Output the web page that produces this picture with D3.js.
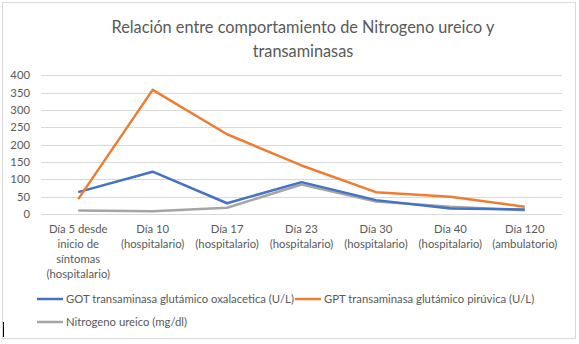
<!DOCTYPE html>
<html>
<head>
<meta charset="utf-8">
<script src="https://cdn.jsdelivr.net/npm/d3@7"></script>
<style>
  body { margin: 0; background: #fff; }
  svg { font-family: Lato, "Open Sans", sans-serif; }
</style>
</head>
<body>
<svg width="579" height="344"></svg>
<script>
// chart values
var categories = [
  ["Día 5 desde", "inicio de", "síntomas", "(hospitalario)"],
  ["Día 10", "(hospitalario)"],
  ["Día 17", "(hospitalario)"],
  ["Día 23", "(hospitalario)"],
  ["Día 30", "(hospitalario)"],
  ["Día 40", "(hospitalario)"],
  ["Día 120", "(ambulatorio)"]
];
var got = [63, 122, 31, 92, 40, 16, 13];
var gpt = [43, 358, 230, 140, 63, 50, 21];
var nitrogeno = [10, 8, 18, 85, 36, 21, 11];
var yTicks = [0, 50, 100, 150, 200, 250, 300, 350, 400];
var seriesNames = [
  "GOT transaminasa glutámico oxalacetica (U/L)",
  "GPT transaminasa glutámico pirúvica (U/L)",
  "Nitrogeno ureico (mg/dl)"
];
var seriesColors = ["#4472C4", "#ED7D31", "#A5A5A5"];

var svg = d3.select("svg");
var textColor = "#595959";
var labelSize = 11.3;

// outer chart border
svg.append("rect")
  .attr("x", 2.5).attr("y", 2.5)
  .attr("width", 573).attr("height", 336)
  .attr("fill", "#fff")
  .attr("stroke", "#D9D9D9");

// title
var title = svg.append("text")
  .attr("text-anchor", "middle")
  .attr("fill", textColor)
  .attr("font-size", 16.3);
title.append("tspan").attr("x", 303).attr("y", 33).text("Relación entre comportamiento de Nitrogeno ureico y");
title.append("tspan").attr("x", 303).attr("y", 57).text("transaminasas");

var plotLeft = 41, plotRight = 562, plotTop = 75.3, plotBottom = 214;

var xScale = d3.scaleBand()
  .domain(d3.range(categories.length))
  .range([plotLeft, plotRight]);

var yScale = d3.scaleLinear()
  .domain([0, 400])
  .range([plotBottom, plotTop]);

// gridlines
svg.append("g")
  .selectAll("line")
  .data(yTicks)
  .join("line")
  .attr("x1", plotLeft).attr("x2", plotRight)
  .attr("y1", function(d) { return Math.round(yScale(d)) + 0.5; })
  .attr("y2", function(d) { return Math.round(yScale(d)) + 0.5; })
  .attr("stroke", "#D9D9D9");

// y axis labels
var yAxis = d3.axisLeft(yScale).tickValues(yTicks).tickSize(0).tickPadding(0);
var ya = svg.append("g")
  .attr("transform", "translate(30,0)")
  .call(yAxis);
ya.select(".domain").remove();
ya.selectAll("text")
  .attr("fill", textColor)
  .attr("font-size", labelSize)
  .attr("font-family", "Lato, sans-serif");

// x axis labels (multi-line)
var xa = svg.append("g");
xa.selectAll("text")
  .data(categories)
  .join("text")
  .attr("text-anchor", "middle")
  .attr("fill", textColor)
  .attr("font-size", labelSize)
  .each(function(lines, i) {
    var t = d3.select(this);
    var cx = xScale(i) + xScale.bandwidth() / 2;
    lines.forEach(function(s, j) {
      t.append("tspan").attr("x", cx).attr("y", 233 + j * 15).text(s);
    });
  });

// lines
var line = d3.line()
  .x(function(d, i) { return xScale(i) + xScale.bandwidth() / 2; })
  .y(function(d) { return yScale(d); });

var allSeries = [got, gpt, nitrogeno];
// gray first, then blue, then orange like the picture layering
[2, 0, 1].forEach(function(k) {
  svg.append("path")
    .datum(allSeries[k])
    .attr("fill", "none")
    .attr("stroke", seriesColors[k])
    .attr("stroke-width", 2.5)
    .attr("stroke-linejoin", "round")
    .attr("d", line);
});

// legend
var legendPos = [[37, 299], [295, 299], [37, 322]];
var lg = svg.append("g")
  .selectAll("g")
  .data(seriesNames)
  .join("g")
  .attr("transform", function(d, i) { return "translate(" + legendPos[i][0] + "," + legendPos[i][1] + ")"; });
lg.append("line")
  .attr("x1", 0).attr("x2", 26)
  .attr("stroke", function(d, i) { return seriesColors[i]; })
  .attr("stroke-width", 2.5);
lg.append("text")
  .attr("x", 29).attr("y", 4)
  .attr("fill", textColor)
  .attr("font-size", labelSize)
  .text(function(d) { return d; });

// small cursor mark at bottom left
svg.append("line")
  .attr("x1", 3.5).attr("x2", 3.5)
  .attr("y1", 322).attr("y2", 337)
  .attr("stroke", "#000")
  .attr("stroke-width", 1);
</script>
</body>
</html>
